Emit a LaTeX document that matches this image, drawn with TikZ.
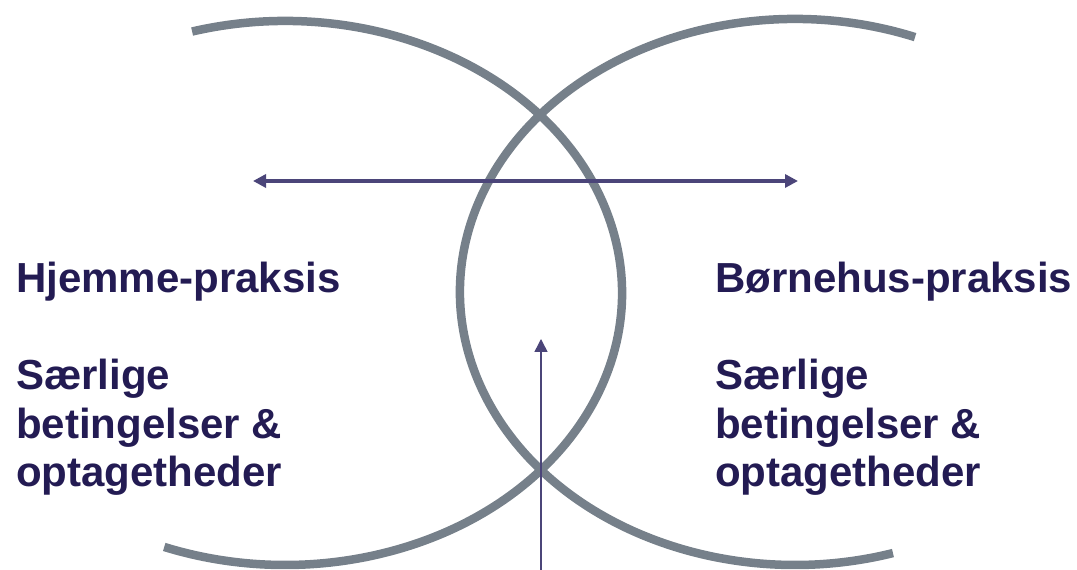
\documentclass[tikz,border=0pt]{standalone}
\usepackage{fontspec}
\setmainfont{Liberation Sans}
\usetikzlibrary{positioning,arrows.meta}
\definecolor{arcgrey}{HTML}{76808A}
\definecolor{arrowblue}{HTML}{4B4579}
\definecolor{textnavy}{HTML}{231B53}

\begin{document}
\begin{tikzpicture}[x=1pt, y=1pt,
    arcline/.style={draw=arcgrey, line width=8.5pt},
    pointer/.style={draw=arrowblue, -{Triangle[length=13pt, width=13pt]}},
    heading/.style={inner sep=0pt, anchor=base west, text=textnavy,
      font=\fontsize{42}{48.5}\selectfont\bfseries},
    body/.style={inner sep=0pt, align=left, text=textnavy,
      font=\fontsize{42}{48.5}\selectfont\bfseries}]

    \useasboundingbox (0,0) rectangle (1077,570);

    % Define arcs
    \draw[arcline] (285,277) ++(106:337 and 272)
      arc[start angle=106, end angle=-111, x radius=337, y radius=272];
    \draw[arcline] (795,278) ++(69:335 and 273)
      arc[start angle=69, end angle=287, x radius=335, y radius=273];

    % Define nodes
    \node[heading] (hjem) at (16,277) {Hjemme-praksis};
    \node[body, below right=57pt and 0pt of hjem.south west] (hjemtxt)
      {Særlige\\betingelser \&\\optagetheder};
    \node[heading] (boern) at (715,277) {Børnehus-praksis};
    \node[body, below right=57pt and 0pt of boern.south west] (boerntxt)
      {Særlige\\betingelser \&\\optagetheder};

    % Arrow ends
    \coordinate (west) at (253,389);
    \coordinate (east) at (798,389);
    \coordinate (foot) at (541,0);
    \coordinate (head) at (541,231);

    % Connect
    \draw[pointer, {Triangle[length=13pt, width=13pt]}-{Triangle[length=13pt, width=13pt]}, line width=4pt] (west) -- (east);
    \draw[pointer, line width=1.5pt] (foot) -- (head);

  \end{tikzpicture}
\end{document}
